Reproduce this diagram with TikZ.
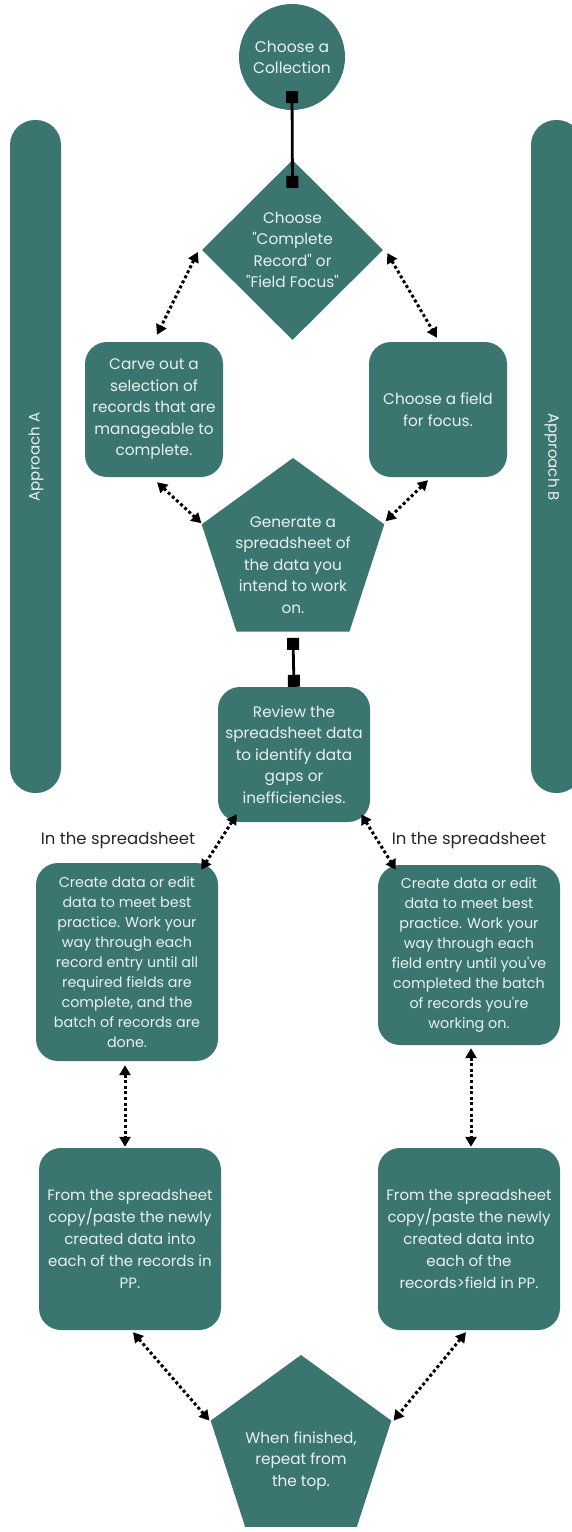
\documentclass[tikz,border=0pt]{standalone}
\usepackage{fontspec}
\setmainfont{Poppins}[Ligatures=TeXOff]
\usetikzlibrary{shapes.geometric,arrows.meta,calc}
\definecolor{tealc}{RGB}{59,117,112}
\definecolor{txtc}{RGB}{233,241,239}
\begin{document}
\begin{tikzpicture}[x=1pt,y=1pt,
  shp/.style={fill=tealc, draw=none, text=txtc, align=center, inner sep=0pt, font=\fontsize{15.3}{21.5}\selectfont},
  rbox/.style={shp, rounded corners=22pt},
  poly/.style={fill=tealc, draw=none, regular polygon, regular polygon sides=5, inner sep=0pt},
  ttext/.style={text=txtc, align=center, inner sep=0pt, font=\fontsize{15.3}{21.5}\selectfont},
  dbl/.style={line width=3pt, dash pattern=on 3pt off 2.6pt, {Triangle[length=10pt,width=11pt]}-{Triangle[length=10pt,width=11pt]}},
  sq/.style={line width=2.8pt, {Square[length=12pt,width=12pt]}-{Square[length=12pt,width=12pt]}},
  lbl/.style={font=\fontsize{16.5}{19}\selectfont, text=black!85, inner sep=0pt},
  bartxt/.style={text=txtc, font=\fontsize{15}{17}\selectfont, inner sep=0pt}
]
\useasboundingbox (0,0) rectangle (572,-1532);
\clip (0,0) rectangle (572,-1532);

% side bars
\node[fill=tealc, rounded corners=25pt, minimum width=51pt, minimum height=673pt, inner sep=0pt] (barA) at (35.5,-456.5) {};
\node[fill=tealc, rounded corners=25pt, minimum width=51pt, minimum height=673pt, inner sep=0pt] (barB) at (556.5,-456.5) {};
\node[bartxt, rotate=90] (appA) at (36,-457) {Approach A};
\node[bartxt, rotate=-90] (appB) at (552,-457) {Approach B};

% shapes
\node[shp, circle, minimum size=106pt, font=\fontsize{15.5}{21}\selectfont] (coll) at (292,-57) {Choose a\\Collection};
\node[fill=tealc, diamond, minimum width=181pt, minimum height=180pt, inner sep=0pt] (dia) at (292.5,-250) {};
\node[ttext] (diat) at (292.5,-250) {Choose\\"Complete\\Record" or\\"Field Focus"};

\node[rbox, minimum width=138pt, minimum height=135pt] (carve) at (154,-409.5) {Carve out a\\selection of\\records that are\\manageable to\\complete.};
\node[rbox, minimum width=138pt, minimum height=135pt] (field) at (438,-409.5) {Choose a field\\for focus.};

\node[poly, minimum size=192pt] (gen) at (293,-554) {};
\node[ttext] (gent) at (293,-565) {Generate a\\spreadsheet of\\the data you\\intend to work\\on.};

\node[rbox, minimum width=152pt, minimum height=135pt] (rev) at (294,-754.5) {Review the\\spreadsheet data\\to identify data\\gaps or\\inefficiencies.};

\node[lbl] (ssA) at (118,-841) {In the spreadsheet};
\node[lbl] (ssB) at (469,-841) {In the spreadsheet};

\node[rbox, minimum width=182pt, minimum height=198pt, font=\fontsize{14.3}{20}\selectfont] (ca) at (127,-962) {Create data or edit\\data to meet best\\practice. Work your\\way through each\\record entry until all\\required fields are\\complete, and the\\batch of records are\\done.};
\node[rbox, minimum width=182pt, minimum height=180pt, font=\fontsize{14.3}{20}\selectfont] (cb) at (469,-955) {Create data or edit\\data to meet best\\practice. Work your\\way through each\\field entry until you've\\completed the batch\\of records you're\\working on.};

\node[rbox, minimum width=182pt, minimum height=182pt, font=\fontsize{15}{22}\selectfont] (pa) at (130,-1239) {From the spreadsheet\\copy/paste the newly\\created data into\\each of the records in\\PP.};
\node[rbox, minimum width=182pt, minimum height=182pt, font=\fontsize{15}{22}\selectfont] (pb) at (469,-1239) {From the spreadsheet\\copy/paste the newly\\created data into\\each of the\\records>field in PP.};

\node[poly, minimum size=190pt] (fin) at (301,-1450) {};
\node[ttext] (fint) at (301,-1461) {When finished,\\repeat from\\the top.};

% connectors
\draw[sq] ($(coll.south)+(0,19)$) -- ($(dia.north)+(0,-28)$);
\draw[sq] ($(gen.side 3)+(0,-6)$) -- (rev.north);

\draw[dbl] ($(dia.west)+(-4,-2)$) -- ($(carve.north)+(3,7)$);
\draw[dbl] ($(dia.east)+(4,-3)$) -- ($(field.north)+(-1,4)$);
\draw[dbl] ($(carve.south)+(3,-5)$) -- ($(gen.corner 2)+(0,1)$);
\draw[dbl] ($(field.south)+(-10,-3)$) -- ($(gen.corner 5)+(1,3)$);
\draw[dbl] ($(rev.south west)+(19,8)$) -- ($(ca.north east)+(-17,-7)$);
\draw[dbl] ($(rev.south east)+(-9,8)$) -- ($(cb.north west)+(18,-5)$);
\draw[dbl] ($(ca.south)+(-2,-4)$) -- ($(pa.north)+(-5,1)$);
\draw[dbl] ($(cb.south)+(2,-3)$) -- ($(pb.north)+(2,1)$);
\draw[dbl] ($(pa.south)+(3,-2)$) -- ($(fin.corner 2)+(-1,0)$);
\draw[dbl] ($(pb.south)+(-3,-2)$) -- ($(fin.corner 5)+(2,0)$);
\end{tikzpicture}
\end{document}
